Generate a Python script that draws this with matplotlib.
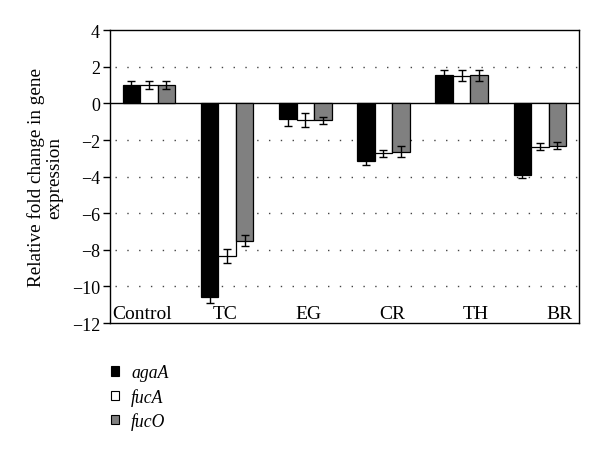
import numpy as np
import matplotlib
matplotlib.use("Agg")
import matplotlib.pyplot as plt
from matplotlib.patches import Patch

plt.rcParams["font.family"] = ["Liberation Serif", "DejaVu Serif"]

# Data
groups = ["Control", "TC", "EG", "CR", "TH", "BR"]
genes = ["agaA", "fucA", "fucO"]
aga_a = [1.0, -10.55, -0.84, -3.15, 1.53, -3.9]
fuc_a = [1.0, -8.34, -0.9, -2.73, 1.5, -2.37]
fuc_o = [1.0, -7.5, -0.93, -2.64, 1.55, -2.3]
aga_a_err = [0.2, 0.35, 0.4, 0.2, 0.29, 0.2]
fuc_a_err = [0.2, 0.38, 0.4, 0.2, 0.3, 0.2]
fuc_o_err = [0.2, 0.29, 0.2, 0.29, 0.3, 0.2]
colors = ["black", "white", "#808080"]
grid_levels = [2, -2, -4, -6, -8, -10]

fig = plt.figure(figsize=(6, 4.52), dpi=100)
ax = fig.add_axes([0.183, 0.283, 0.782, 0.648])

x = np.arange(len(groups))
w = 0.225
series = [(aga_a, aga_a_err), (fuc_a, fuc_a_err), (fuc_o, fuc_o_err)]

# dotted gridlines
for g in grid_levels:
    ax.plot([-0.43, 5.5], [g, g], color="#444444", linestyle=(0, (1, 7.5)),
            linewidth=1.0, zorder=0)

for k, (vals, errs) in enumerate(series):
    ax.bar(x + (k - 1) * w, vals, width=w, color=colors[k], edgecolor="black",
           linewidth=0.9, zorder=2)
    ax.errorbar(x + (k - 1) * w, vals, yerr=errs, fmt="none", ecolor="black",
                elinewidth=1.0, capsize=3, capthick=1.0, zorder=3)

ax.axhline(0, color="black", linewidth=1.0, zorder=1)

# category labels sit inside the plot, just above the bottom
for i, name in enumerate(groups):
    ax.text(-0.09 + i * 1.067, -11.45, name, ha="center", va="center",
            fontsize=14)

ax.set_xlim(-0.5, 5.5)
ax.set_ylim(-12, 4)
ax.set_yticks(np.arange(-12, 5, 2))
ax.set_xticks([])
ax.tick_params(axis="y", direction="out", length=5, width=1, labelsize=13, pad=2)
for s in ax.spines.values():
    s.set_linewidth(1.0)
ax.set_ylabel("Relative fold change in gene\nexpression", fontsize=13.8,
              labelpad=6, linespacing=1.15)

handles = [Patch(facecolor=c, edgecolor="black", linewidth=0.8) for c in colors]
fig.legend(handles, genes, loc="upper left", bbox_to_anchor=(0.173, 0.207),
           frameon=False, prop={"style": "italic", "size": 12.7},
           handlelength=0.45, handleheight=0.45, handletextpad=0.7,
           labelspacing=0.35, borderaxespad=0)

fig.savefig("out.png", dpi=100)
